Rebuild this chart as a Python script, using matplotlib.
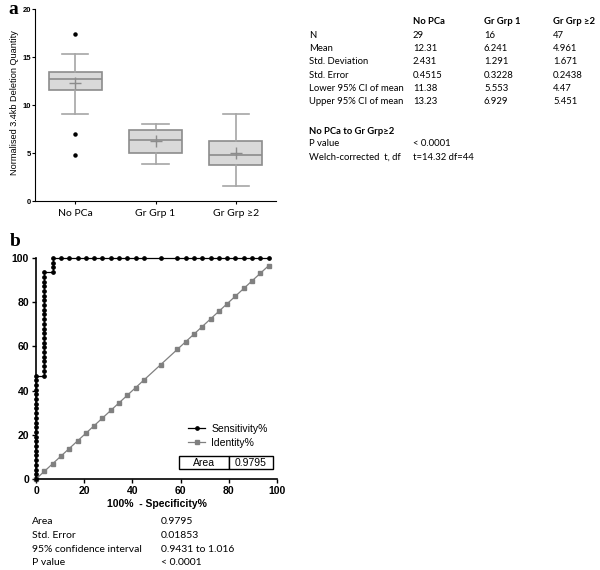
import numpy as np
import matplotlib.pyplot as plt

# ---- panel a data (box plots) ----
groups = ['No PCa', 'Gr Grp 1', 'Gr Grp \u22652']
whisk_lo = [9.1, 3.85, 1.56]
q1 = [11.6, 5.03, 3.78]
medians = [12.74, 6.35, 4.83]
q3 = [13.44, 7.40, 6.25]
whisk_hi = [15.3, 8.06, 9.1]
means = [12.31, 6.241, 4.961]
outliers = [[17.36, 7.01, 4.76], [], []]

stat_rows = ['N', 'Mean', 'Std. Deviation', 'Std. Error',
             'Lower 95% CI of mean', 'Upper 95% CI of mean']
stat_nopca = ['29', '12.31', '2.431', '0.4515', '11.38', '13.23']
stat_grp1 = ['16', '6.241', '1.291', '0.3228', '5.553', '6.929']
stat_grp2 = ['47', '4.961', '1.671', '0.2438', '4.47', '5.451']

# ---- panel b data (ROC) ----
sens_x = [0]*23 + [3.448]*23 + [6.897]*3 + \
    [6.897, 10.34, 13.79, 17.24, 20.69, 24.14, 27.59, 31.03, 34.48, 37.93, 41.38,
     44.83, 51.72, 58.62, 62.07, 65.52, 68.97, 72.41, 75.86, 79.31, 82.76, 86.21,
     89.66, 93.10, 96.55]
sens_y = [0, 2.13, 4.26, 6.38, 8.51, 10.64, 12.77, 14.89, 17.02, 19.15, 21.28,
          23.40, 25.53, 27.66, 29.79, 31.91, 34.04, 36.17, 38.30, 40.43, 42.55,
          44.68, 46.81,
          46.81, 48.94, 51.06, 53.19, 55.32, 57.45, 59.57, 61.70, 63.83, 65.96,
          68.09, 70.21, 72.34, 74.47, 76.60, 78.72, 80.85, 82.98, 85.11, 87.23,
          89.36, 91.49, 93.62,
          93.62, 95.74, 97.87] + [100]*25
ident_x = [0, 3.448, 6.897, 10.34, 13.79, 17.24, 20.69, 24.14, 27.59, 31.03, 34.48,
           37.93, 41.38, 44.83, 51.72, 58.62, 62.07, 65.52, 68.97, 72.41, 75.86,
           79.31, 82.76, 86.21, 89.66, 93.10, 96.55]
ident_y = ident_x[:]
roc_rows = ['Area', 'Std. Error', '95% confidence interval', 'P value']
roc_vals = ['0.9795', '0.01853', '0.9431 to 1.016', '< 0.0001']

W, H = 600, 570
fig = plt.figure(figsize=(6, 5.7), dpi=100)
tfont = 'Lato'
tsize = 6.8

# ---------------- panel a ----------------
ax = fig.add_axes([35/W, 1-201/H, 241/W, 192/H])
stats = []
for i in range(3):
    stats.append(dict(med=medians[i], q1=q1[i], q3=q3[i], whislo=whisk_lo[i],
                      whishi=whisk_hi[i], mean=means[i], fliers=outliers[i]))
ax.bxp(stats, positions=[1, 2, 3], widths=0.66, patch_artist=True, showmeans=True,
       boxprops=dict(facecolor='#d9d9d9', edgecolor='#8c8c8c', linewidth=1.2),
       medianprops=dict(color='#8c8c8c', linewidth=1.2),
       whiskerprops=dict(color='#a6a6a6', linewidth=1.2),
       capprops=dict(color='#a6a6a6', linewidth=1.2), capwidths=0.33,
       meanprops=dict(marker='+', markeredgecolor='#8c8c8c', markersize=9, markeredgewidth=1),
       flierprops=dict(marker='o', markerfacecolor='black', markeredgecolor='black', markersize=2.2))
ax.set_xlim(0.5, 3.5)
ax.set_ylim(0, 20)
ax.set_yticks([0, 5, 10, 15, 20])
ax.set_xticks([1, 2, 3])
ax.set_xticklabels(groups, family=tfont, fontsize=7.5)
for lab in ax.get_yticklabels():
    lab.set_fontweight('bold')
    lab.set_fontsize(5.5)
    lab.set_family('Liberation Sans')
ax.tick_params(axis='y', length=2, width=0.8, pad=1)
ax.tick_params(axis='x', length=2, width=0.8, pad=4)
ax.spines[['top', 'right']].set_visible(False)
ax.set_ylabel('Normalised 3.4kb Deletion Quantity', family='Liberation Sans', fontsize=6.6)
ax.yaxis.set_label_coords(-(35-19)/241, 0.515)
fig.text(8/W, 1-10/H, 'a', family='Liberation Serif', fontweight='bold', fontsize=14, va='center')

# stats table
cols = [309, 413, 484, 553]
fig.text(cols[1]/W, 1-22/H, 'No PCa', family=tfont, fontweight='bold', fontsize=tsize, va='center')
fig.text(cols[2]/W, 1-22/H, 'Gr Grp 1', family=tfont, fontweight='bold', fontsize=tsize, va='center')
fig.text(cols[3]/W, 1-22/H, 'Gr Grp \u22652', family=tfont, fontweight='bold', fontsize=tsize, va='center')
for i, r in enumerate(stat_rows):
    yy = 1 - (35 + i*13.4)/H
    fig.text(cols[0]/W, yy, r, family=tfont, fontsize=tsize, va='center')
    fig.text(cols[1]/W, yy, stat_nopca[i], family=tfont, fontsize=tsize, va='center')
    fig.text(cols[2]/W, yy, stat_grp1[i], family=tfont, fontsize=tsize, va='center')
    fig.text(cols[3]/W, yy, stat_grp2[i], family=tfont, fontsize=tsize, va='center')
fig.text(cols[0]/W, 1-131/H, 'No PCa to Gr Grp\u22652', family=tfont, fontweight='bold', fontsize=tsize, va='center')
fig.text(cols[0]/W, 1-144/H, 'P value', family=tfont, fontsize=tsize, va='center')
fig.text(cols[1]/W, 1-144/H, '< 0.0001', family=tfont, fontsize=tsize, va='center')
fig.text(cols[0]/W, 1-157/H, 'Welch-corrected  t, df', family=tfont, fontsize=tsize, va='center')
fig.text(cols[1]/W, 1-157/H, 't=14.32 df=44', family=tfont, fontsize=tsize, va='center')

# ---------------- panel b ----------------
bx = fig.add_axes([36/W, 1-479/H, 241/W, 221/H])
bx.plot(ident_x, ident_y, color='#808080', lw=0.9, marker='s', markersize=2.4,
        markerfacecolor='#808080', markeredgecolor='#808080', label='Identity%', zorder=2, clip_on=False)
bx.plot(sens_x, sens_y, color='black', lw=0.9, marker='o', markersize=2.4,
        label='Sensitivity%', zorder=3, clip_on=False)
bx.set_xlim(0, 100)
bx.set_ylim(0, 100)
bx.set_xticks(range(0, 101, 20))
bx.set_yticks(range(0, 101, 20))
for lab in bx.get_xticklabels() + bx.get_yticklabels():
    lab.set_fontweight('bold')
    lab.set_fontsize(7.5)
    lab.set_family('Liberation Sans')
bx.tick_params(length=3, width=1, pad=2)
bx.spines[['top', 'right']].set_visible(False)
for s in ['left', 'bottom']:
    bx.spines[s].set_linewidth(1.2)
bx.set_xlabel('100%  - Specificity%', family='Liberation Sans', fontweight='bold', fontsize=7.5, labelpad=2)
h, l = bx.get_legend_handles_labels()
bx.legend(h[::-1], l[::-1], loc='lower right', bbox_to_anchor=(1.0, 0.10), frameon=False,
          prop=dict(family='Liberation Sans', size=7.5), handlelength=1.6,
          handletextpad=0.6, labelspacing=0.35)
# area box
bx.table(cellText=[['Area', '0.9795']], cellLoc='center', colWidths=[50/241, 44/241],
         bbox=[(179-36)/241, (479-469)/221, 94/241, 13/221])
for c in bx.tables[0].get_celld().values():
    c.get_text().set_family('Liberation Sans')
    c.get_text().set_fontsize(7.5)
    c.set_linewidth(1)
fig.text(10/W, 1-242/H, 'b', family='Liberation Serif', fontweight='bold', fontsize=14, va='center')

for i, r in enumerate(roc_rows):
    yy = 1 - (522 + i*13.6)/H
    fig.text(32/W, yy, r, family=tfont, fontsize=7.5, va='center')
    fig.text(161/W, yy, roc_vals[i], family=tfont, fontsize=7.5, va='center')

fig.savefig('out.png', dpi=100)
